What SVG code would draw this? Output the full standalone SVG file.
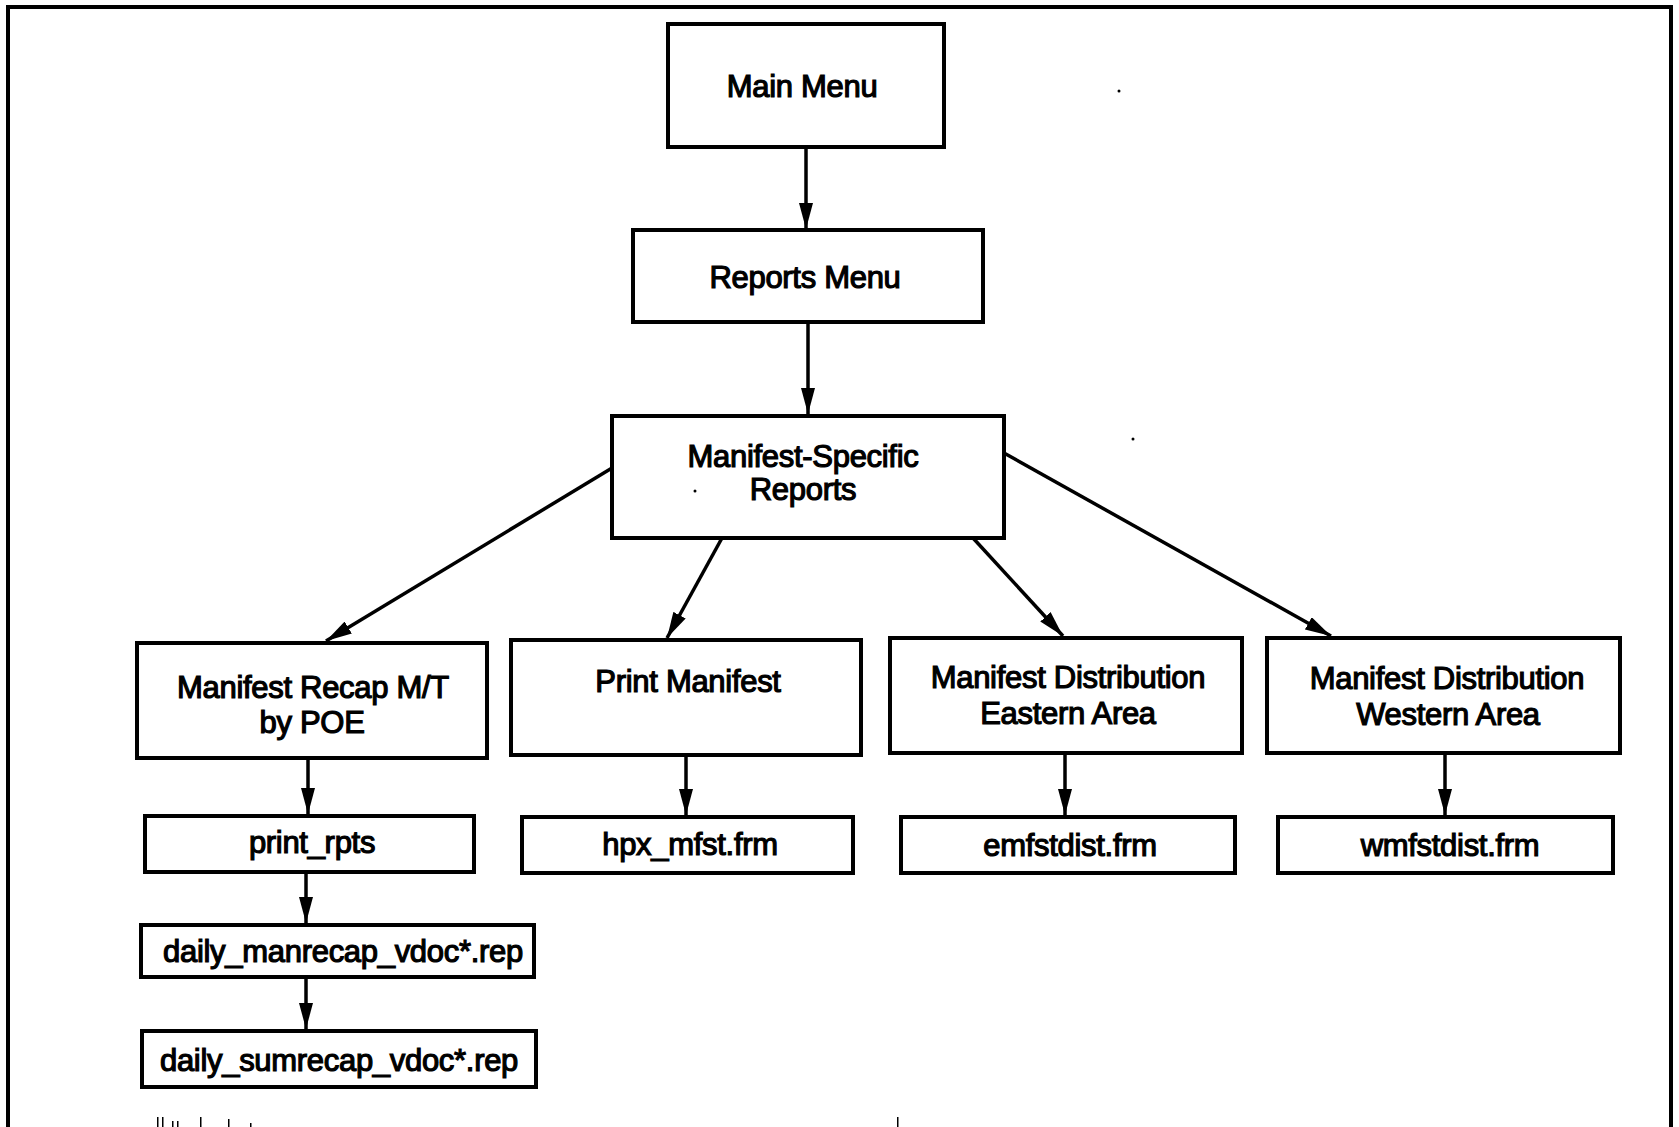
<svg xmlns="http://www.w3.org/2000/svg" width="1679" height="1127" viewBox="0 0 1679 1127">
<style>
.box{fill:#fff;stroke:#000;stroke-width:4}
.lbl{font-family:"Liberation Sans",Arial,sans-serif;font-size:31px;text-anchor:middle;fill:#000;stroke:#000;stroke-width:1.2;letter-spacing:-0.3px}
.con{fill:none;stroke:#000;stroke-width:3.5;marker-end:url(#ah)}
.frame{fill:none;stroke:#000;stroke-width:4}
.speck{fill:#000}
</style>
<defs>
<marker id="ah" markerUnits="userSpaceOnUse" viewBox="0 0 26 14" markerWidth="26" markerHeight="14" refX="26" refY="7" orient="auto">
<path d="M0,0 L26,7 L0,14 z" fill="#000"/>
</marker>
</defs>
<rect width="1679" height="1127" fill="#fff"/>
<g id="frame">
<path class="frame" d="M8,1127 L8,7 L1671,7 L1671,1127"/>
</g>
<g id="connectors">
<line class="con" x1="806" y1="147" x2="806" y2="229"/>
<line class="con" x1="808" y1="322" x2="808" y2="414"/>
<line class="con" x1="612" y1="468" x2="326" y2="641"/>
<line class="con" x1="722" y1="538" x2="667" y2="638"/>
<line class="con" x1="973" y1="538" x2="1063" y2="636"/>
<line class="con" x1="1004" y1="453" x2="1331" y2="636"/>
<line class="con" x1="308" y1="758" x2="308" y2="814"/>
<line class="con" x1="686" y1="755" x2="686" y2="815"/>
<line class="con" x1="1065" y1="753" x2="1065" y2="815"/>
<line class="con" x1="1445" y1="753" x2="1445" y2="815"/>
<line class="con" x1="306" y1="872" x2="306" y2="923"/>
<line class="con" x1="306" y1="977" x2="306" y2="1029"/>
</g>
<g id="main-menu">
<rect class="box" x="668" y="24" width="276" height="123"/>
<text class="lbl" x="802" y="97">Main Menu</text>
</g>
<g id="reports-menu">
<rect class="box" x="633" y="230" width="350" height="92"/>
<text class="lbl" x="805" y="288">Reports Menu</text>
</g>
<g id="manifest-specific">
<rect class="box" x="612" y="416" width="392" height="122"/>
<text class="lbl" x="803" y="467">Manifest-Specific</text>
<text class="lbl" x="803" y="500">Reports</text>
</g>
<g id="manifest-recap">
<rect class="box" x="137" y="643" width="350" height="115"/>
<text class="lbl" x="313" y="698">Manifest Recap M/T</text>
<text class="lbl" x="312" y="733">by POE</text>
</g>
<g id="print-manifest">
<rect class="box" x="511" y="640" width="350" height="115"/>
<text class="lbl" x="688" y="692">Print Manifest</text>
</g>
<g id="dist-eastern">
<rect class="box" x="890" y="638" width="352" height="115"/>
<text class="lbl" x="1068" y="688">Manifest Distribution</text>
<text class="lbl" x="1068" y="724">Eastern Area</text>
</g>
<g id="dist-western">
<rect class="box" x="1267" y="638" width="353" height="115"/>
<text class="lbl" x="1447" y="689">Manifest Distribution</text>
<text class="lbl" x="1448" y="725">Western Area</text>
</g>
<g id="print-rpts">
<rect class="box" x="145" y="816" width="329" height="56"/>
<text class="lbl" x="312" y="853">print_rpts</text>
</g>
<g id="hpx-mfst">
<rect class="box" x="522" y="817" width="331" height="56"/>
<text class="lbl" x="690" y="855">hpx_mfst.frm</text>
</g>
<g id="emfstdist">
<rect class="box" x="901" y="817" width="334" height="56"/>
<text class="lbl" x="1070" y="856">emfstdist.frm</text>
</g>
<g id="wmfstdist">
<rect class="box" x="1278" y="817" width="335" height="56"/>
<text class="lbl" x="1450" y="856">wmfstdist.frm</text>
</g>
<g id="daily-manrecap">
<rect class="box" x="141" y="925" width="393" height="52"/>
<text class="lbl" x="343" y="962">daily_manrecap_vdoc*.rep</text>
</g>
<g id="daily-sumrecap">
<rect class="box" x="142" y="1031" width="394" height="56"/>
<text class="lbl" x="339" y="1071">daily_sumrecap_vdoc*.rep</text>
</g>
<g id="specks">
<circle class="speck" cx="695" cy="491" r="1.5"/>
<circle class="speck" cx="1119" cy="91" r="1.5"/>
<circle class="speck" cx="1133" cy="439" r="1.5"/>
<rect class="speck" x="157" y="1117" width="1.5" height="10"/>
<rect class="speck" x="162" y="1117" width="1.5" height="10"/>
<rect class="speck" x="172" y="1121" width="1.5" height="6"/>
<rect class="speck" x="177" y="1121" width="1.5" height="6"/>
<rect class="speck" x="200" y="1117" width="1.5" height="10"/>
<rect class="speck" x="228" y="1119" width="1.5" height="8"/>
<rect class="speck" x="250" y="1123" width="1.5" height="4"/>
<rect class="speck" x="897" y="1117" width="1.5" height="10"/>
</g>
</svg>
